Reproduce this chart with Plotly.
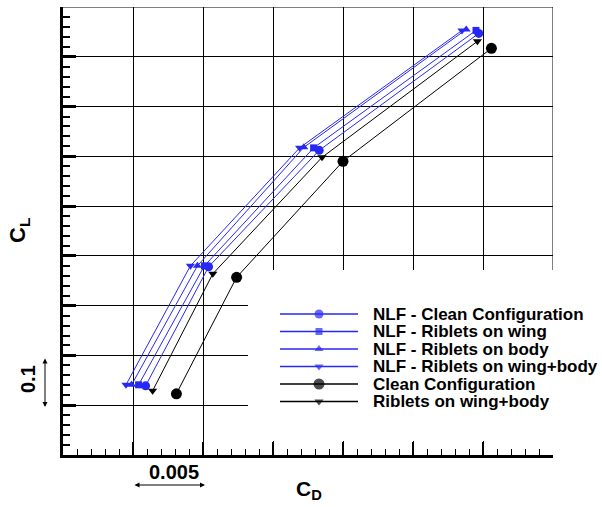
import plotly.graph_objects as go

# ---- data ----
cd_nlf_clean = [0.0159, 0.0204, 0.0283, 0.0397]
cl_nlf_clean = [0.139, 0.378, 0.612, 0.847]
cd_nlf_wing = [0.0154, 0.0201, 0.0279, 0.0395]
cl_nlf_wing = [0.141, 0.380, 0.617, 0.853]
cd_nlf_body = [0.0149, 0.0196, 0.0272, 0.0388]
cl_nlf_body = [0.141, 0.380, 0.618, 0.855]
cd_nlf_wb = [0.0145, 0.0191, 0.0269, 0.0385]
cl_nlf_wb = [0.141, 0.380, 0.617, 0.853]
cd_clean = [0.0181, 0.0224, 0.0300, 0.0406]
cl_clean = [0.123, 0.357, 0.590, 0.817]
cd_rib = [0.0164, 0.0207, 0.0285, 0.0396]
cl_rib = [0.129, 0.364, 0.598, 0.831]

names = ["NLF - Clean Configuration", "NLF - Riblets on wing", "NLF - Riblets on body",
         "NLF - Riblets on wing+body", "Clean Configuration", "Riblets on wing+body"]

X_RANGE = [0.010, 0.045]
Y_RANGE = [0.0, 0.9]

BLUE = "rgb(40,40,245)"
BLACK = "black"
FONT = "Liberation Sans, Arial, sans-serif"

# layout helpers: pixel position in the 602x507 page -> axis / paper coordinates
L, R, T, B = 63, 553, 7, 455


def px_x(p):
    return X_RANGE[0] + (p - L) / (R - L) * (X_RANGE[1] - X_RANGE[0])


def px_y(p):
    return Y_RANGE[0] + (B - p) / (B - T) * (Y_RANGE[1] - Y_RANGE[0])


def pp_x(p):
    return (p - L) / (R - L)


def pp_y(p):
    return (B - p) / (B - T)


series = [
    (cd_nlf_clean, cl_nlf_clean, BLUE, "circle", 9),
    (cd_nlf_wing, cl_nlf_wing, BLUE, "square", 7),
    (cd_nlf_body, cl_nlf_body, BLUE, "triangle-up", 8),
    (cd_nlf_wb, cl_nlf_wb, BLUE, "triangle-down", 8),
    (cd_clean, cl_clean, BLACK, "circle", 11),
    (cd_rib, cl_rib, BLACK, "triangle-down", 8),
]

fig = go.Figure()
for (x, y, c, sym, sz), nm in zip(series, names):
    fig.add_trace(go.Scatter(x=x, y=y, mode="lines+markers", name=nm,
                             line=dict(color=c, width=1),
                             marker=dict(symbol=sym, size=sz, color=c),
                             showlegend=False))

# ---- manual legend on a pixel overlay axis ----
row_y = [314, 331.5, 349, 366.5, 384, 401.5]
annotations = []
for i, ((x, y, c, sym, sz), nm) in enumerate(zip(series, names)):
    ry = row_y[i]
    fig.add_trace(go.Scatter(x=[280, 319, 358], y=[ry, ry, ry], xaxis="x2", yaxis="y2",
                             mode="lines+markers", line=dict(color=c, width=1.5),
                             marker=dict(symbol=sym, size=[0, sz, 0], color=c,
                                         line=dict(width=0)),
                             showlegend=False, hoverinfo="skip"))
    annotations.append(dict(x=pp_x(371), y=pp_y(ry), xref="paper", yref="paper",
                            text="<b>" + nm + "</b>",
                            showarrow=False, xanchor="left", yanchor="middle",
                            font=dict(family=FONT, size=17, color="black")))

shapes = [
    dict(type="rect", xref="x", yref="y", x0=px_x(248), x1=px_x(560),
         y0=px_y(270), y1=px_y(441),
         fillcolor="white", line=dict(width=0), layer="between"),
    dict(type="line", xref="x", yref="y", x0=X_RANGE[1], x1=X_RANGE[1],
         y0=Y_RANGE[1], y1=px_y(270),
         line=dict(color="black", width=1), layer="between"),
    dict(type="line", xref="x", yref="y", x0=X_RANGE[0], x1=X_RANGE[1],
         y0=Y_RANGE[1], y1=Y_RANGE[1],
         line=dict(color="black", width=1), layer="between"),
]

annotations += [
    dict(x=pp_x(309), y=pp_y(490), xref="paper", yref="paper", text="<b>C<sub>D</sub></b>",
         showarrow=False, xanchor="center", yanchor="middle",
         font=dict(family=FONT, size=21, color="black")),
    dict(x=pp_x(19), y=pp_y(231), xref="paper", yref="paper", text="<b>C<sub>L</sub></b>",
         showarrow=False, textangle=-90, xanchor="center", yanchor="middle",
         font=dict(family=FONT, size=22, color="black")),
    dict(x=pp_x(174), y=pp_y(472), xref="paper", yref="paper", text="<b>0.005</b>",
         showarrow=False, xanchor="center", yanchor="middle",
         font=dict(family=FONT, size=20, color="black")),
    dict(x=pp_x(28), y=pp_y(379), xref="paper", yref="paper", text="<b>0.1</b>",
         showarrow=False, textangle=-90, xanchor="center", yanchor="middle",
         font=dict(family=FONT, size=20, color="black")),
    dict(x=pp_x(205), y=pp_y(485), ax=-72, ay=0,
         xref="paper", yref="paper",
         text="", showarrow=True, arrowhead=2, startarrowhead=2, arrowside="end+start",
         arrowsize=1, arrowwidth=1, arrowcolor="black", standoff=0, startstandoff=0),
    dict(x=pp_x(45), y=pp_y(407), ax=0, ay=-50,
         xref="paper", yref="paper",
         text="", showarrow=True, arrowhead=2, startarrowhead=2, arrowside="end+start",
         arrowsize=1, arrowwidth=1, arrowcolor="black", standoff=0, startstandoff=0),
]

fig.update_layout(
    width=602, height=507,
    margin=dict(l=63, r=49, t=7, b=52),
    paper_bgcolor="white", plot_bgcolor="white",
    font=dict(family=FONT, color="black"),
    shapes=shapes, annotations=annotations,
    xaxis=dict(range=X_RANGE, dtick=0.005, tick0=0, showgrid=True,
               gridcolor="black", gridwidth=1, zeroline=False,
               showline=True, linewidth=3, linecolor="black",
               ticks="inside", ticklen=13, tickwidth=2, tickcolor="black",
               showticklabels=False,
               minor=dict(ticks="inside", ticklen=6, tickwidth=1, tickcolor="black",
                          dtick=0.001, showgrid=False)),
    yaxis=dict(range=Y_RANGE, dtick=0.1, tick0=0, showgrid=True,
               gridcolor="black", gridwidth=1, zeroline=False,
               showline=True, linewidth=3, linecolor="black",
               ticks="inside", ticklen=13, tickwidth=3, tickcolor="black",
               showticklabels=False,
               minor=dict(ticks="inside", ticklen=7, tickwidth=1.5, tickcolor="black",
                          dtick=0.02, showgrid=False)),
    xaxis2=dict(overlaying="x", range=[L, R], visible=False, showgrid=False),
    yaxis2=dict(overlaying="y", range=[B, T], visible=False, showgrid=False),
)

fig.write_html("out.html")
